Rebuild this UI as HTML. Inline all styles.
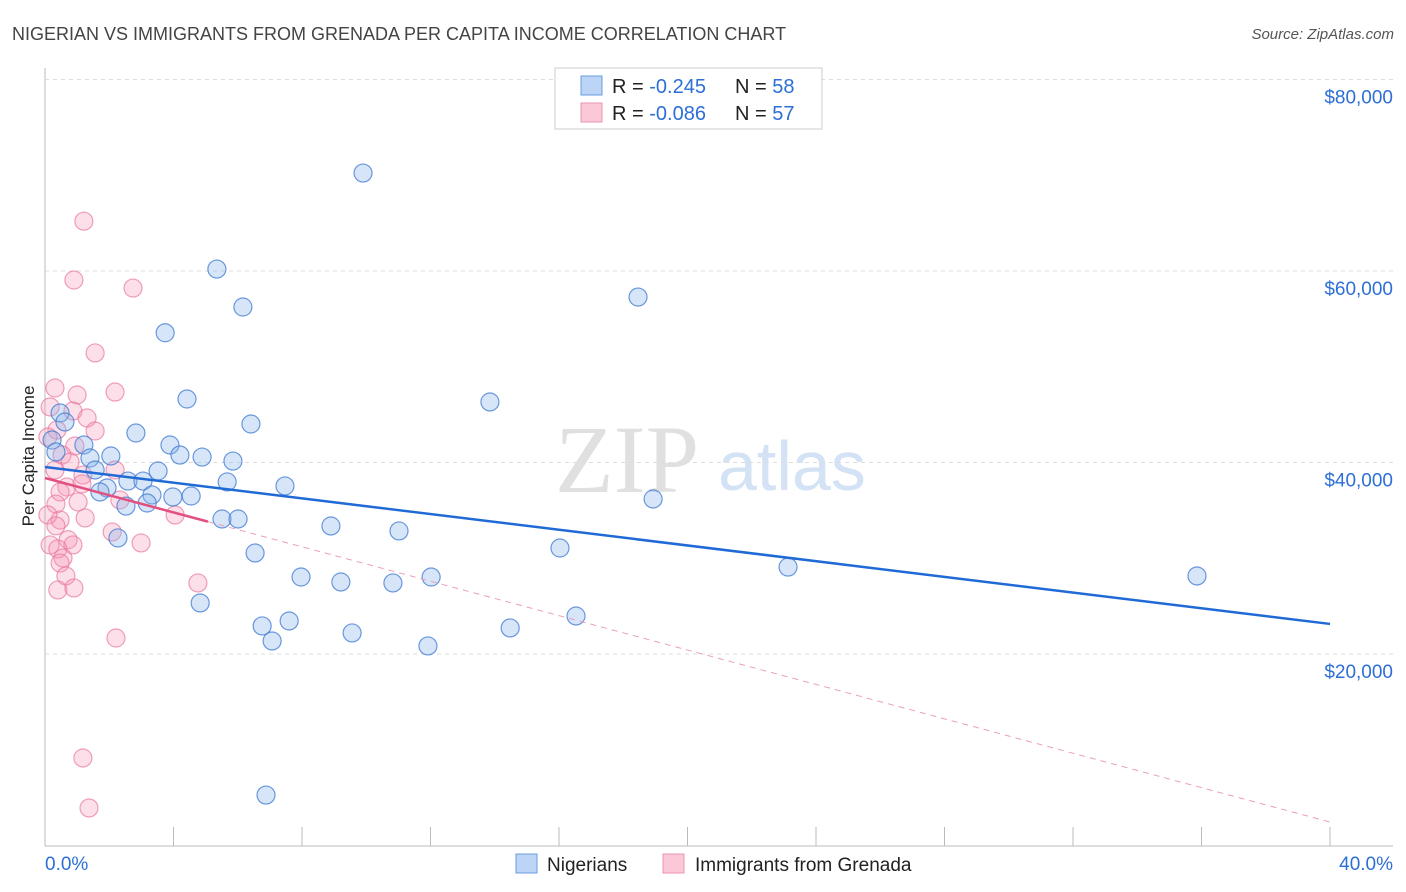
<!DOCTYPE html>
<html><head><meta charset="utf-8"><style>
body{margin:0;background:#fff;font-family:"Liberation Sans",sans-serif;}
#wrap{position:relative;width:1406px;height:892px;overflow:hidden;}
</style></head><body><div id="wrap">
<svg id="svg" width="1406" height="892" xmlns="http://www.w3.org/2000/svg">
<text x="12" y="40" font-size="18" fill="#444">NIGERIAN VS IMMIGRANTS FROM GRENADA PER CAPITA INCOME CORRELATION CHART</text>
<text x="1394" y="39" font-size="15" fill="#555" font-style="italic" text-anchor="end">Source: ZipAtlas.com</text>
<text x="0" y="0" font-size="17" fill="#222" transform="translate(34,456) rotate(-90)" text-anchor="middle">Per Capita Income</text>
<g><text x="555" y="492" font-size="96" font-family="Liberation Serif" fill="#e0e0e0">ZIP</text><text x="718" y="490" font-size="70" fill="#d3e2f4">atlas</text></g>
<g id="grid"></g><g id="marks"></g>
<g>
<rect x="555" y="68" width="267" height="61" fill="#fff" stroke="#ccc"/>
<rect x="581" y="76" width="21" height="19" fill="#bcd4f5" stroke="#6a9ce0"/>
<rect x="581" y="103" width="21" height="19" fill="#fbc8d8" stroke="#ec93b1"/>
<text x="612" y="93" font-size="20" fill="#222">R = <tspan fill="#2d6fd6">-0.245</tspan></text>
<text x="735" y="93" font-size="20" fill="#222">N = <tspan fill="#2d6fd6">58</tspan></text>
<text x="612" y="120" font-size="20" fill="#222">R = <tspan fill="#2d6fd6">-0.086</tspan></text>
<text x="735" y="120" font-size="20" fill="#222">N = <tspan fill="#2d6fd6">57</tspan></text>
</g>
<g>
<rect x="516" y="854" width="21" height="19" fill="#bcd4f5" stroke="#6a9ce0"/>
<text x="547" y="871" font-size="19" fill="#222">Nigerians</text>
<rect x="663" y="854" width="21" height="19" fill="#fbc8d8" stroke="#ec93b1"/>
<text x="695" y="871" font-size="19" fill="#222">Immigrants from Grenada</text>
</g>
<text x="45" y="870" font-size="19" fill="#2d6fd6">0.0%</text>
<text x="1393" y="870" font-size="19" fill="#2d6fd6" text-anchor="end">40.0%</text>
</svg>
<script>
const yTicks=[20000,40000,60000,80000];
const yTickLabels=["$20,000","$40,000","$60,000","$80,000"];
const xTicks=[0,4,8,12,16,20,24,28,32,36,40];
const blueX=[9.90,5.35,6.16,18.46,3.74,4.42,13.85,6.41,0.47,0.62,2.83,3.89,4.20,4.89,5.85,2.05,1.21,1.40,0.22,0.34,1.56,3.52,1.93,1.71,2.58,3.05,3.33,3.98,4.55,3.18,2.52,5.67,7.47,18.93,5.51,6.01,8.90,11.02,2.27,16.03,6.54,7.97,9.21,10.83,12.02,23.13,35.86,4.83,16.53,7.60,6.76,14.48,9.56,7.07,11.92,6.88];
const blueY=[70230,60200,56240,57280,53550,46630,46320,44020,45170,44230,43080,41830,40780,40570,40150,40680,41830,40470,42350,41100,39220,39110,37340,36920,38060,38060,36610,36400,36500,35770,35450,37970,37550,36190,34100,34100,33370,32850,32120,31070,30550,28040,27520,27420,28040,29080,28150,25330,23970,23450,22930,22720,22200,21360,20840,5270];
const pinkX=[1.21,0.90,2.74,1.56,0.31,2.18,1.00,0.16,0.87,1.31,1.56,0.37,0.09,0.93,0.53,0.78,2.18,0.31,1.18,0.68,1.15,0.47,2.33,1.03,0.34,4.05,1.25,0.47,0.09,2.09,0.34,0.72,2.99,0.16,0.87,0.40,0.56,0.47,0.65,0.40,0.90,4.76,2.21,1.18,1.37];
const pinkY=[65200,59060,58220,51440,47780,47360,47050,45800,45380,44650,43290,43390,42660,41720,40780,40050,39220,39220,38690,37440,37760,36920,36090,35880,35660,34520,34210,34000,34520,32750,33390,31930,31600,31390,31390,30970,30030,29500,28150,26690,26900,27420,21670,9140,3920];
const blueTrend=[39530,23140];
const pinkTrend=[38380,2450];
const pinkSolidEnd=5.07;
const sx=v=>45+v/40*1285;
const sy=v=>845.5-v/20000*191.5;
const NS="http://www.w3.org/2000/svg";
const grid=document.getElementById('grid'),marks=document.getElementById('marks');
function mk(p,tag,a){const e=document.createElementNS(NS,tag);for(const k in a)e.setAttribute(k,a[k]);p.appendChild(e);return e;}
let ax=mk(grid,'line',{x1:45,y1:68,x2:45,y2:846,stroke:'#bbb'});


let bx=mk(grid,'line',{x1:45,y1:846,x2:1393,y2:846,stroke:'#bbb'});


yTicks.forEach((t,i)=>{
 const l=mk(grid,'line',{x1:45,x2:1393,y1:sy(t),y2:sy(t),stroke:'#ddd','stroke-dasharray':'4,4'});
 
 
 const tx=mk(grid,'text',{x:1393,y:sy(t)+24,'font-size':19,fill:'#2d6fd6','text-anchor':'end'});
 tx.textContent=yTickLabels[i];
 
 
});
xTicks.forEach(t=>{
 const l=mk(grid,'line',{x1:sx(t),x2:sx(t),y1:827,y2:846,stroke:'#bbb'});
 
 
});
pinkX.forEach((x,i)=>{
 const c=mk(marks,'circle',{cx:sx(x),cy:sy(pinkY[i]),r:9,fill:'rgba(244,150,180,0.3)',stroke:'rgba(232,120,160,0.7)','stroke-width':1.2});
 
 
});
blueX.forEach((x,i)=>{
 const c=mk(marks,'circle',{cx:sx(x),cy:sy(blueY[i]),r:9,fill:'rgba(140,180,235,0.35)',stroke:'rgba(60,120,210,0.75)','stroke-width':1.2});
 
 
});
const py=x=>pinkTrend[0]+(pinkTrend[1]-pinkTrend[0])*x/40;
let pd=mk(marks,'line',{x1:sx(pinkSolidEnd),y1:sy(py(pinkSolidEnd)),x2:sx(40),y2:sy(pinkTrend[1]),stroke:'#e9a0b8','stroke-width':1,'stroke-dasharray':'6,5'});


let ps=mk(marks,'line',{x1:sx(0),y1:sy(pinkTrend[0]),x2:sx(pinkSolidEnd),y2:sy(py(pinkSolidEnd)),stroke:'#e2507f','stroke-width':2.5});


let bl=mk(marks,'line',{x1:sx(0),y1:sy(blueTrend[0]),x2:sx(40),y2:sy(blueTrend[1]),stroke:'#1f6ad6','stroke-width':2.5});


</script></div></body></html>
